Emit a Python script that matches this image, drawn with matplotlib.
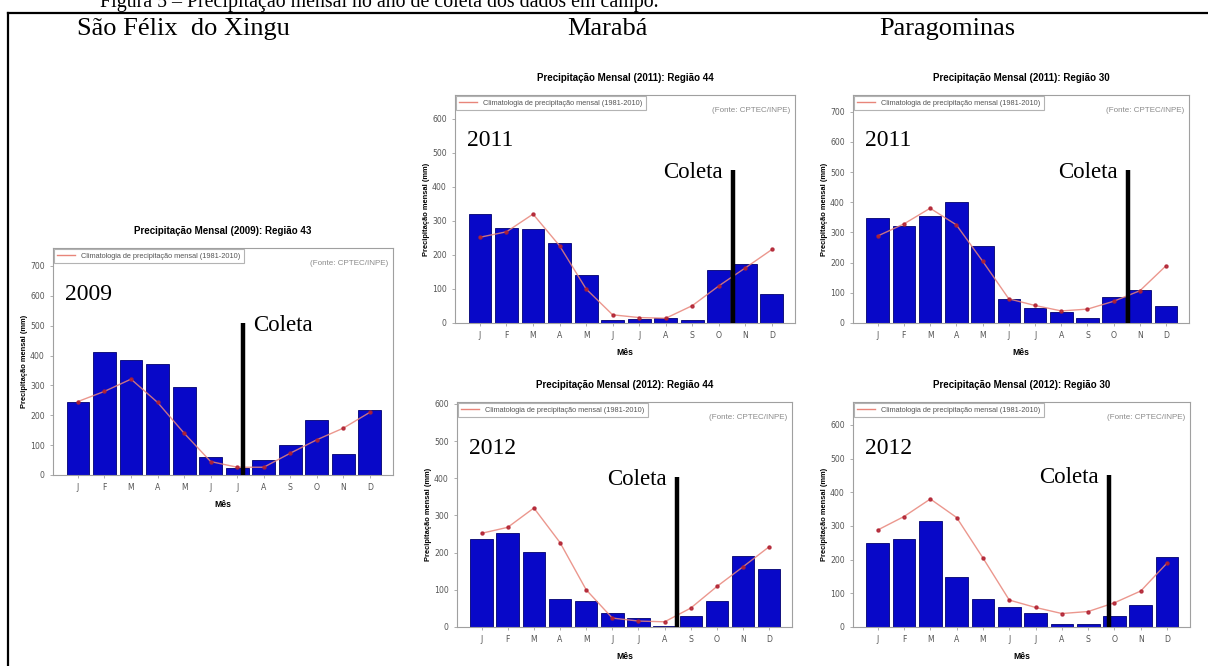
import matplotlib
matplotlib.use("Agg")
import matplotlib.pyplot as plt
from matplotlib.lines import Line2D
import numpy as np

# ---- data (mm) ----
months = ["J", "F", "M", "A", "M", "J", "J", "A", "S", "O", "N", "D"]

sfx_2009 = [246, 411, 384, 373, 293, 59, 22, 50, 99, 183, 71, 216]
clim_43 = [246, 280, 321, 243, 140, 45, 26, 26, 73, 118, 157, 210]

mab_2011 = [319, 279, 275, 235, 142, 10, 12, 15, 10, 155, 174, 86]
mab_2012 = [236, 252, 202, 76, 71, 38, 24, 4, 29, 70, 192, 156]
clim_44 = [252, 268, 320, 227, 100, 24, 16, 14, 51, 109, 162, 216]

pgm_2011 = [347, 322, 353, 402, 256, 79, 50, 36, 17, 86, 110, 57]
pgm_2012 = [249, 262, 316, 148, 84, 59, 43, 10, 10, 32, 66, 207]
clim_30 = [288, 328, 380, 325, 205, 80, 58, 40, 46, 72, 107, 190]

# sampling campaign marker: month position and line height
coleta_2009 = (6.2, 510)
coleta_mab_2011 = (9.55, 450)
coleta_mab_2012 = (7.47, 404)
coleta_pgm_2011 = (9.55, 507)
coleta_pgm_2012 = (8.8, 452)

sites = ["São Félix  do Xingu", "Marabá", "Paragominas"]
caption = "Figura 5 – Precipitação mensal no ano de coleta dos dados em campo."
legend_label = "Climatologia de precipitação mensal (1981-2010)"
source_label = "(Fonte: CPTEC/INPE)"

# ---- style ----
BAR = "#0808c8"
BAR_EDGE = "#000070"
CLIM = "#e8857a"
CLIM_DOT = "#b02030"
SPINE = "#a0a0a0"
TICK = "#555555"
SERIF = ["Liberation Serif", "DejaVu Serif"]
SANS = ["Liberation Sans", "DejaVu Sans"]

W, H = 1208, 666
fig = plt.figure(figsize=(W / 100, H / 100), dpi=100)
fig.patch.set_facecolor("white")

PX = 0.72  # points per pixel at 100 dpi


def px_axes(l, t, r, b):
    return fig.add_axes([l / W, 1 - b / H, (r - l) / W, (b - t) / H])


def panel(rect, year, region, values, clim, ymax, ytop, coleta,
          label_side="left"):
    ax = px_axes(*rect)
    x = np.arange(len(months))
    ax.bar(x, values, width=0.86, color=BAR, edgecolor=BAR_EDGE,
           linewidth=0.6, zorder=2)
    ax.plot(x, clim, color=CLIM, lw=1.0, marker="o", ms=2.2,
            mfc=CLIM_DOT, mec=CLIM_DOT, alpha=0.85, zorder=3)
    # legend handle: plain line
    ax.plot([], [], color=CLIM, lw=1.0, label=legend_label)
    cx, ch = coleta
    ax.plot([cx, cx], [0, ch], color="black", lw=3.2,
            solid_capstyle="butt", zorder=5)
    if label_side == "left":
        off, ha = -7.5, "right"
    else:
        off, ha = 7.5, "left"
    ax.annotate("Coleta", xy=(cx, ch), xytext=(off, -2),
                textcoords="offset points", ha=ha, va="center",
                fontfamily=SERIF, fontsize=16.5, zorder=6)
    ax.annotate(str(year), xy=(0, 1), xycoords="axes fraction",
                xytext=(12 * PX, -46 * PX), textcoords="offset points",
                ha="left", va="center", fontfamily=SERIF, fontsize=17)

    ax.set_xlim(-0.94, 11.87)
    ax.set_ylim(0, ymax)
    ax.set_xticks(x)
    ax.set_xticklabels(months)
    ax.set_yticks(np.arange(0, ytop + 1, 100))
    ax.tick_params(axis="both", labelsize=5.6, colors=SPINE,
                   labelcolor=TICK, length=2.5, width=0.6, pad=3.5)
    for s in ax.spines.values():
        s.set_color(SPINE)
        s.set_linewidth(0.8)

    ax.set_title(f"Precipitação Mensal ({year}): Região {region}",
                 fontsize=7.0, fontweight="bold", fontfamily=SANS, pad=10)
    ax.set_xlabel("Mês", fontsize=6.2, fontweight="bold",
                  fontfamily=SANS, labelpad=5.5)
    ax.set_ylabel("Precipitação mensal (mm)", fontsize=5.4,
                  fontweight="bold", fontfamily=SANS, labelpad=1.5)

    leg = ax.legend(loc="upper left", frameon=True, fancybox=False,
                    edgecolor=SPINE, borderaxespad=0.15, handlelength=2.4,
                    borderpad=0.45, prop={"family": SANS, "size": 5.3})
    leg.get_frame().set_linewidth(0.8)
    for t in leg.get_texts():
        t.set_color("#555555")
    ax.text(0.985, 0.93, source_label, transform=ax.transAxes, ha="right",
            va="center", fontsize=5.8, color="#8a8a8a", fontfamily=SANS)
    return ax


panel((53, 248, 393, 475), 2009, 43, sfx_2009, clim_43, 760, 700,
      coleta_2009, label_side="right")
panel((455, 95, 795, 323), 2011, 44, mab_2011, clim_44, 670, 600, coleta_mab_2011)
panel((457, 402, 792, 627), 2012, 44, mab_2012, clim_44, 605, 600, coleta_mab_2012)
panel((853, 95, 1189, 323), 2011, 30, pgm_2011, clim_30, 755, 700, coleta_pgm_2011)
panel((853, 402, 1190, 627), 2012, 30, pgm_2012, clim_30, 668, 600, coleta_pgm_2012)

# site headings
for name, cx in zip(sites, [183, 607, 947]):
    fig.text(cx / W, 1 - 35 / H, name, ha="center", va="baseline",
             fontfamily=SERIF, fontsize=19)

# figure caption (runs off the top edge)
fig.text(100 / W, 1 - 7 / H, caption, ha="left", va="baseline",
         fontfamily=SERIF, fontsize=14.3)

# surrounding frame
fig.add_artist(Line2D([8 / W, 8 / W], [0, 1 - 13 / H], color="black",
                      lw=1.6, transform=fig.transFigure))
fig.add_artist(Line2D([8 / W, 1], [1 - 13 / H, 1 - 13 / H], color="black",
                      lw=1.6, transform=fig.transFigure))

fig.savefig("out.png", dpi=100)
